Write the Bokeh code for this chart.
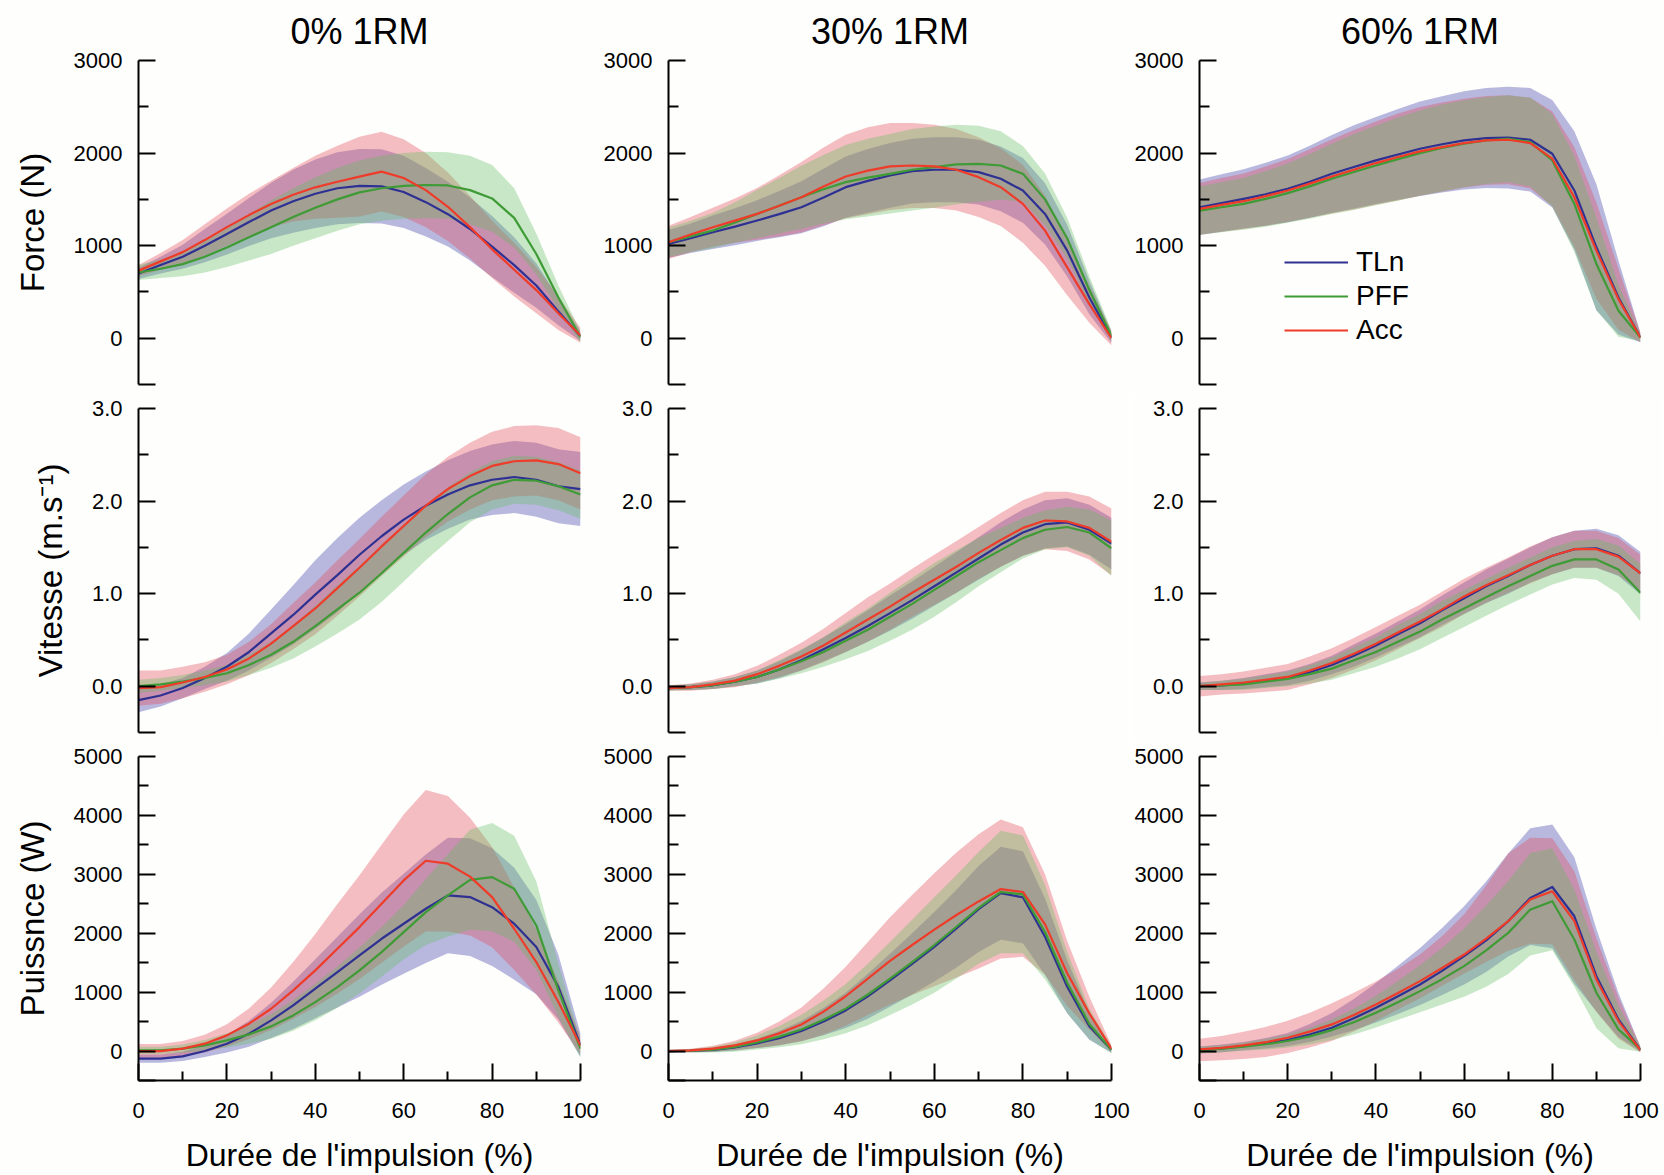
from bokeh.plotting import figure
from bokeh.layouts import gridplot
from bokeh.models import Range1d, FixedTicker, Legend, LegendItem
from bokeh.embed import file_html
from bokeh.resources import INLINE

# ---------------- data (percent of impulse duration) ----------------
X = list(range(0, 101, 5))

conditions = ["0% 1RM", "30% 1RM", "60% 1RM"]
series = ["TLn", "PFF", "Acc"]
x_ticks = [0, 20, 40, 60, 80, 100]
x_minor = [10, 30, 50, 70, 90]
x_label = "Durée de l'impulsion (%)"

force_labels = ["0", "1000", "2000", "3000"]
vit_labels = ["0.0", "1.0", "2.0", "3.0"]
pow_labels = ["0", "1000", "2000", "3000", "4000", "5000"]

# Force (N) - 0% 1RM
force_0_tln = [700, 790, 880, 1000, 1125, 1255, 1380, 1480, 1560, 1620, 1645, 1640, 1580, 1470, 1340, 1180, 990, 790, 570, 290, 20]
force_0_tln_sd = [60, 90, 130, 180, 220, 260, 300, 340, 370, 390, 400, 400, 390, 370, 350, 340, 330, 300, 240, 150, 50]
force_0_pff = [710, 750, 800, 880, 980, 1090, 1200, 1310, 1410, 1500, 1575, 1620, 1645, 1655, 1650, 1600, 1510, 1300, 910, 440, 10]
force_0_pff_sd = [80, 100, 130, 170, 210, 250, 290, 310, 330, 340, 345, 350, 355, 360, 360, 370, 360, 320, 220, 130, 60]
force_0_acc = [730, 830, 930, 1060, 1200, 1330, 1450, 1550, 1630, 1690, 1745, 1800, 1730, 1600, 1420, 1200, 960, 740, 520, 270, 30]
force_0_acc_sd = [60, 90, 130, 170, 200, 230, 250, 290, 340, 390, 430, 430, 420, 400, 370, 340, 310, 290, 250, 180, 80]

# Force (N) - 30% 1RM
force_30_tln = [1018, 1080, 1145, 1205, 1271, 1340, 1415, 1520, 1632, 1700, 1758, 1805, 1820, 1820, 1794, 1722, 1596, 1343, 946, 440, 7]
force_30_tln_sd = [150, 160, 180, 200, 220, 250, 280, 310, 330, 345, 350, 350, 350, 350, 350, 350, 350, 330, 280, 180, 60]
force_30_pff = [1036, 1100, 1163, 1250, 1343, 1430, 1523, 1610, 1686, 1735, 1776, 1820, 1848, 1877, 1884, 1866, 1776, 1500, 1080, 520, 25]
force_30_pff_sd = [160, 170, 190, 220, 260, 300, 340, 370, 400, 420, 430, 440, 440, 430, 410, 370, 300, 280, 220, 150, 60]
force_30_acc = [1036, 1120, 1199, 1270, 1343, 1430, 1523, 1640, 1747, 1810, 1856, 1866, 1856, 1820, 1740, 1632, 1451, 1162, 765, 368, 0]
force_30_acc_sd = [180, 190, 210, 240, 280, 330, 380, 420, 450, 470, 470, 460, 450, 440, 430, 420, 420, 380, 300, 200, 80]

# Force (N) - 60% 1RM
force_60_tln = [1415, 1460, 1505, 1555, 1614, 1690, 1776, 1850, 1921, 1985, 2047, 2095, 2137, 2162, 2166, 2144, 1993, 1596, 982, 440, 7]
force_60_tln_sd = [300, 310, 320, 340, 360, 390, 420, 450, 470, 490, 510, 520, 530, 540, 550, 560, 580, 640, 680, 400, 50]
force_60_pff = [1379, 1415, 1451, 1505, 1567, 1640, 1722, 1795, 1866, 1935, 2000, 2055, 2101, 2137, 2155, 2119, 1921, 1451, 802, 296, 7]
force_60_pff_sd = [260, 270, 280, 300, 320, 350, 380, 410, 430, 450, 460, 470, 470, 470, 470, 480, 500, 520, 500, 280, 40]
force_60_acc = [1397, 1440, 1480, 1535, 1596, 1670, 1747, 1820, 1892, 1958, 2018, 2065, 2108, 2137, 2144, 2108, 1939, 1523, 946, 422, 7]
force_60_acc_sd = [280, 290, 300, 320, 340, 370, 400, 430, 450, 470, 480, 480, 480, 480, 480, 490, 510, 540, 520, 330, 50]

# Vitesse (m/s) - 0% 1RM
vit_0_tln = [-0.15, -0.10, -0.02, 0.09, 0.21, 0.37, 0.57, 0.77, 0.99, 1.20, 1.42, 1.62, 1.80, 1.95, 2.07, 2.17, 2.23, 2.26, 2.23, 2.16, 2.13]
vit_0_tln_sd = [0.13, 0.12, 0.11, 0.12, 0.15, 0.20, 0.26, 0.32, 0.37, 0.40, 0.40, 0.39, 0.38, 0.37, 0.37, 0.37, 0.38, 0.39, 0.40, 0.40, 0.40]
vit_0_pff = [0.0, 0.02, 0.05, 0.09, 0.14, 0.23, 0.34, 0.48, 0.65, 0.83, 1.01, 1.22, 1.44, 1.66, 1.86, 2.04, 2.17, 2.23, 2.22, 2.16, 2.07]
vit_0_pff_sd = [0.07, 0.07, 0.07, 0.08, 0.09, 0.11, 0.14, 0.18, 0.22, 0.26, 0.29, 0.31, 0.31, 0.30, 0.29, 0.27, 0.26, 0.26, 0.26, 0.26, 0.26]
vit_0_acc = [-0.02, -0.01, 0.04, 0.10, 0.18, 0.30, 0.46, 0.65, 0.84, 1.06, 1.28, 1.51, 1.73, 1.95, 2.13, 2.27, 2.38, 2.43, 2.44, 2.40, 2.30]
vit_0_acc_sd = [0.19, 0.18, 0.17, 0.16, 0.16, 0.18, 0.21, 0.25, 0.28, 0.30, 0.31, 0.32, 0.33, 0.34, 0.35, 0.36, 0.37, 0.38, 0.38, 0.39, 0.39]

# Vitesse (m/s) - 30% 1RM
vit_30_tln = [-0.02, -0.01, 0.01, 0.05, 0.10, 0.18, 0.28, 0.40, 0.52, 0.65, 0.79, 0.93, 1.08, 1.23, 1.38, 1.53, 1.66, 1.75, 1.77, 1.69, 1.54]
vit_30_tln_sd = [0.02, 0.03, 0.04, 0.05, 0.07, 0.09, 0.11, 0.13, 0.15, 0.17, 0.19, 0.20, 0.21, 0.22, 0.23, 0.24, 0.25, 0.26, 0.26, 0.27, 0.28]
vit_30_pff = [-0.02, -0.01, 0.01, 0.05, 0.10, 0.18, 0.27, 0.37, 0.49, 0.61, 0.75, 0.89, 1.04, 1.19, 1.34, 1.47, 1.60, 1.69, 1.72, 1.66, 1.49]
vit_30_pff_sd = [0.03, 0.03, 0.04, 0.05, 0.07, 0.10, 0.13, 0.16, 0.20, 0.23, 0.26, 0.28, 0.29, 0.28, 0.26, 0.24, 0.22, 0.21, 0.22, 0.25, 0.30]
vit_30_acc = [-0.02, -0.01, 0.02, 0.06, 0.13, 0.22, 0.32, 0.44, 0.58, 0.72, 0.86, 1.01, 1.15, 1.29, 1.44, 1.58, 1.71, 1.79, 1.78, 1.71, 1.56]
vit_30_acc_sd = [0.03, 0.04, 0.05, 0.07, 0.09, 0.12, 0.15, 0.18, 0.21, 0.24, 0.25, 0.26, 0.27, 0.28, 0.28, 0.29, 0.30, 0.31, 0.32, 0.34, 0.36]

# Vitesse (m/s) - 60% 1RM
vit_60_tln = [0.0, 0.01, 0.03, 0.06, 0.09, 0.15, 0.23, 0.33, 0.44, 0.56, 0.68, 0.82, 0.95, 1.08, 1.19, 1.31, 1.41, 1.48, 1.49, 1.41, 1.22]
vit_60_tln_sd = [0.04, 0.05, 0.06, 0.07, 0.08, 0.09, 0.10, 0.12, 0.13, 0.14, 0.15, 0.16, 0.17, 0.18, 0.19, 0.19, 0.20, 0.20, 0.21, 0.22, 0.23]
vit_60_pff = [0.0, 0.01, 0.02, 0.05, 0.08, 0.13, 0.19, 0.28, 0.37, 0.48, 0.59, 0.72, 0.84, 0.96, 1.08, 1.19, 1.30, 1.37, 1.37, 1.26, 1.01]
vit_60_pff_sd = [0.04, 0.05, 0.06, 0.07, 0.08, 0.10, 0.12, 0.14, 0.16, 0.18, 0.19, 0.20, 0.20, 0.20, 0.20, 0.20, 0.20, 0.20, 0.22, 0.26, 0.31]
vit_60_acc = [0.0, 0.02, 0.04, 0.07, 0.10, 0.17, 0.25, 0.35, 0.46, 0.58, 0.70, 0.83, 0.97, 1.09, 1.20, 1.31, 1.41, 1.48, 1.48, 1.40, 1.22]
vit_60_acc_sd = [0.11, 0.11, 0.12, 0.13, 0.14, 0.15, 0.16, 0.17, 0.18, 0.18, 0.18, 0.19, 0.19, 0.19, 0.19, 0.20, 0.20, 0.20, 0.20, 0.20, 0.20]

# Puissance (W) - 0% 1RM
pow_0_tln = [-130, -130, -90, 0, 125, 294, 520, 775, 1058, 1341, 1623, 1906, 2161, 2415, 2641, 2613, 2443, 2161, 1765, 1086, 96]
pow_0_tln_sd = [70, 70, 80, 100, 150, 220, 300, 400, 500, 600, 700, 780, 850, 920, 980, 1000, 1000, 950, 800, 550, 200]
pow_0_pff = [11, 11, 40, 96, 181, 283, 419, 605, 831, 1086, 1369, 1680, 2019, 2359, 2641, 2907, 2952, 2755, 2132, 1030, 40]
pow_0_pff_sd = [60, 60, 70, 90, 120, 160, 210, 260, 310, 350, 390, 420, 460, 560, 700, 850, 920, 900, 750, 450, 150]
pow_0_acc = [0, 0, 40, 125, 266, 464, 718, 1030, 1369, 1737, 2104, 2500, 2896, 3230, 3180, 2960, 2613, 2076, 1510, 831, 96]
pow_0_acc_sd = [120, 120, 130, 150, 190, 260, 360, 480, 620, 760, 880, 1000, 1120, 1200, 1150, 1000, 850, 700, 550, 350, 150]

# Puissance (W) - 30% 1RM
pow_30_tln = [0, 5, 20, 60, 130, 220, 340, 500, 690, 930, 1200, 1480, 1770, 2080, 2410, 2680, 2610, 1940, 1090, 420, 20]
pow_30_tln_sd = [20, 25, 35, 50, 80, 120, 170, 230, 300, 380, 450, 520, 590, 660, 730, 790, 780, 650, 450, 230, 50]
pow_30_pff = [0, 5, 25, 70, 145, 245, 365, 530, 720, 960, 1230, 1510, 1800, 2110, 2430, 2700, 2660, 2020, 1160, 460, 20]
pow_30_pff_sd = [20, 30, 50, 80, 120, 180, 250, 330, 420, 520, 620, 720, 810, 880, 950, 1040, 1000, 800, 520, 260, 60]
pow_30_acc = [0, 10, 40, 96, 180, 300, 450, 670, 930, 1230, 1530, 1800, 2060, 2310, 2540, 2750, 2700, 2150, 1320, 640, 40]
pow_30_acc_sd = [20, 30, 50, 80, 130, 200, 290, 390, 500, 620, 740, 850, 960, 1060, 1140, 1180, 1100, 850, 550, 280, 60]

# Puissance (W) - 60% 1RM (band not symmetric: upper / lower deviation)
pow_60_tln = [17, 45, 85, 130, 186, 280, 395, 555, 735, 930, 1130, 1360, 1610, 1880, 2204, 2600, 2785, 2288, 1271, 537, 17]
pow_60_tln_sd_up = [60, 65, 70, 90, 120, 180, 250, 330, 420, 520, 620, 730, 850, 1000, 1150, 1180, 1060, 1000, 800, 450, 50]
pow_60_tln_sd_down = [60, 65, 70, 85, 100, 125, 150, 200, 250, 300, 350, 410, 480, 540, 600, 800, 1040, 1150, 600, 300, 30]
pow_60_pff = [17, 40, 73, 115, 170, 250, 356, 490, 650, 830, 1017, 1220, 1441, 1710, 2006, 2401, 2543, 1893, 989, 367, 28]
pow_60_pff_sd_up = [60, 60, 70, 90, 110, 140, 180, 230, 290, 360, 440, 530, 640, 760, 880, 960, 900, 850, 700, 400, 50]
pow_60_pff_sd_down = [60, 60, 70, 90, 110, 140, 170, 210, 250, 300, 360, 430, 520, 620, 700, 780, 830, 800, 600, 320, 40]
pow_60_acc = [28, 55, 96, 150, 226, 330, 452, 610, 791, 985, 1187, 1410, 1638, 1910, 2204, 2571, 2712, 2204, 1215, 509, 17]
pow_60_acc_sd_up = [180, 200, 230, 260, 290, 320, 360, 380, 390, 410, 450, 540, 680, 900, 1150, 1050, 900, 850, 700, 400, 60]
pow_60_acc_sd_down = [200, 210, 230, 250, 260, 270, 280, 280, 280, 280, 290, 300, 320, 400, 500, 750, 900, 1000, 550, 300, 40]

# ---------------- assemble ----------------
def sym(mean, sd):
    return (mean, sd, sd)

panels = [
    [  # Force
        [sym(force_0_tln, force_0_tln_sd), sym(force_0_pff, force_0_pff_sd), sym(force_0_acc, force_0_acc_sd)],
        [sym(force_30_tln, force_30_tln_sd), sym(force_30_pff, force_30_pff_sd), sym(force_30_acc, force_30_acc_sd)],
        [sym(force_60_tln, force_60_tln_sd), sym(force_60_pff, force_60_pff_sd), sym(force_60_acc, force_60_acc_sd)],
    ],
    [  # Vitesse
        [sym(vit_0_tln, vit_0_tln_sd), sym(vit_0_pff, vit_0_pff_sd), sym(vit_0_acc, vit_0_acc_sd)],
        [sym(vit_30_tln, vit_30_tln_sd), sym(vit_30_pff, vit_30_pff_sd), sym(vit_30_acc, vit_30_acc_sd)],
        [sym(vit_60_tln, vit_60_tln_sd), sym(vit_60_pff, vit_60_pff_sd), sym(vit_60_acc, vit_60_acc_sd)],
    ],
    [  # Puissance
        [sym(pow_0_tln, pow_0_tln_sd), sym(pow_0_pff, pow_0_pff_sd), sym(pow_0_acc, pow_0_acc_sd)],
        [sym(pow_30_tln, pow_30_tln_sd), sym(pow_30_pff, pow_30_pff_sd), sym(pow_30_acc, pow_30_acc_sd)],
        [(pow_60_tln, pow_60_tln_sd_up, pow_60_tln_sd_down),
         (pow_60_pff, pow_60_pff_sd_up, pow_60_pff_sd_down),
         (pow_60_acc, pow_60_acc_sd_up, pow_60_acc_sd_down)],
    ],
]

row_specs = [
    dict(label="Force (N)", yr=(-500, 3000), ticks=[-500, 0, 1000, 2000, 3000],
         minor=[500, 1500, 2500], tick_labels=force_labels),
    dict(label="Vitesse (m.s\u207b\u00b9)", yr=(-0.5, 3.0), ticks=[-0.5, 0, 1, 2, 3],
         minor=[0.5, 1.5, 2.5], tick_labels=vit_labels),
    dict(label="Puissnce (W)", yr=(-500, 5000), ticks=[-500, 0, 1000, 2000, 3000, 4000, 5000],
         minor=[500, 1500, 2500, 3500, 4500], tick_labels=pow_labels),
]

LINE_COLORS = ["#2E3192", "#3F9B35", "#EE3B2A"]
FILL_COLORS = ["#3737A9", "#62BD62", "#E24554"]
FILL_ORDER = [0, 2, 1]      # TLn band, then Acc band, then PFF band on top
FILL_ALPHA = 0.35
FONT = "Liberation Sans"
BG = "#FEFEFC"

FRAME_W = [442, 443, 441]
FRAME_H = 324
LEFT = [138, 66, 66]
RIGHT = [20, 20, 24]
TOP = [60, 14, 14]
BOTTOM = [10, 10, 95]

grid = []
for r in range(3):
    spec = row_specs[r]
    row_figs = []
    for c in range(3):
        p = figure(frame_width=FRAME_W[c], frame_height=FRAME_H,
                   x_range=Range1d(0, 100), y_range=Range1d(*spec["yr"]),
                   output_backend="svg", toolbar_location=None,
                   min_border_left=LEFT[c], min_border_right=RIGHT[c],
                   min_border_top=TOP[r], min_border_bottom=BOTTOM[r],
                   background_fill_color=BG, border_fill_color=BG)
        p.outline_line_color = None
        p.xgrid.visible = False
        p.ygrid.visible = False

        for s in FILL_ORDER:
            mean, up, down = panels[r][c][s]
            lo = [m - d for m, d in zip(mean, down)]
            hi = [m + u for m, u in zip(mean, up)]
            p.varea(x=X, y1=lo, y2=hi, fill_color=FILL_COLORS[s], fill_alpha=FILL_ALPHA)
        lines = []
        for s in range(3):
            mean = panels[r][c][s][0]
            lines.append(p.line(X, mean, line_color=LINE_COLORS[s], line_width=2.2,
                                line_join="round"))

        # y axis
        yax = p.yaxis[0]
        yax.ticker = FixedTicker(ticks=spec["ticks"], minor_ticks=spec["minor"])
        overrides = {spec["ticks"][0]: ""}
        for t, lab in zip(spec["ticks"][1:], spec["tick_labels"]):
            overrides[t] = lab
        yax.major_label_overrides = overrides
        yax.major_tick_in = 17
        yax.major_tick_out = 0
        yax.minor_tick_in = 10
        yax.minor_tick_out = 0
        yax.axis_line_width = 2
        yax.major_tick_line_width = 2
        yax.minor_tick_line_width = 2
        yax.axis_line_color = "black"
        yax.major_tick_line_color = "black"
        yax.minor_tick_line_color = "black"
        yax.major_label_text_font = FONT
        yax.major_label_text_font_size = "22px"
        yax.major_label_text_color = "black"
        yax.major_label_standoff = 16
        if c == 0:
            yax.axis_label = spec["label"]
            yax.axis_label_text_font = FONT
            yax.axis_label_text_font_size = "33px"
            yax.axis_label_text_font_style = "normal"
            yax.axis_label_text_color = "black"
            yax.axis_label_standoff = 20

        # x axis
        xax = p.xaxis[0]
        if r < 2:
            xax.visible = False
        else:
            xax.ticker = FixedTicker(ticks=x_ticks, minor_ticks=x_minor)
            xax.major_tick_in = 17
            xax.major_tick_out = 0
            xax.minor_tick_in = 9
            xax.minor_tick_out = 0
            xax.axis_line_width = 2
            xax.major_tick_line_width = 2
            xax.minor_tick_line_width = 2
            xax.axis_line_color = "black"
            xax.major_tick_line_color = "black"
            xax.minor_tick_line_color = "black"
            xax.major_label_text_font = FONT
            xax.major_label_text_font_size = "22px"
            xax.major_label_text_color = "black"
            xax.major_label_standoff = 22
            xax.axis_label = x_label
            xax.axis_label_text_font = FONT
            xax.axis_label_text_font_size = "32px"
            xax.axis_label_text_font_style = "normal"
            xax.axis_label_text_color = "black"
            xax.axis_label_standoff = 16

        if r == 0:
            p.title.text = conditions[c]
            p.title.align = "center"
            p.title.vertical_align = "middle"
            p.title.text_font = FONT
            p.title.text_font_size = "36px"
            p.title.text_font_style = "normal"
            p.title.text_color = "black"
            p.title.standoff = 16
        if r == 0 and c == 2:
            legend = Legend(items=[LegendItem(label=series[s], renderers=[lines[s]]) for s in range(3)],
                            location=(85, 37), orientation="vertical",
                            glyph_width=64, glyph_height=34, label_height=34,
                            label_standoff=8, spacing=0, padding=0, margin=0,
                            border_line_alpha=0, background_fill_alpha=0,
                            label_text_font=FONT, label_text_font_size="28px",
                            label_text_color="black")
            p.add_layout(legend)
        row_figs.append(p)
    grid.append(row_figs)

layout = gridplot(grid, toolbar_location=None)

with open("out.html", "w") as f:
    f.write(file_html(layout, INLINE, "Impulsion"))
